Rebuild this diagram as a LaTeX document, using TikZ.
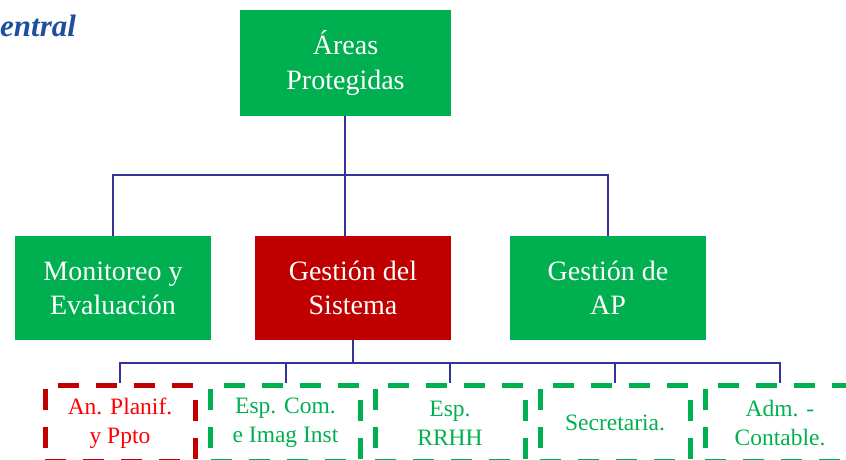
\documentclass[tikz,border=0pt]{standalone}
\usepackage{fontspec}
\setmainfont{Liberation Serif}
\usetikzlibrary{backgrounds}
\definecolor{boxgreen}{HTML}{00B050}
\definecolor{boxred}{HTML}{C00000}
\definecolor{textred}{HTML}{FF0000}
\definecolor{linkblue}{HTML}{333399}
\definecolor{titleblue}{HTML}{1F4E9F}
\tikzset{
  topbox/.style={fill=boxgreen, draw=none, text=white, align=center, minimum width=211pt, minimum height=106pt, inner sep=0pt, font=\fontsize{28}{35}\selectfont},
  midbox/.style={fill=#1, draw=none, text=white, align=center, minimum width=196pt, minimum height=104pt, inner sep=0pt, font=\fontsize{28}{34}\selectfont},
  lowbox/.style={draw=#1, line width=5pt, dash pattern=on 21pt off 17pt, fill=none, align=center, minimum width=150pt, minimum height=76pt, inner sep=0pt, font=\fontsize{23.5}{29}\selectfont},
  link/.style={draw=linkblue, line width=2pt},
  trunk/.style={draw=linkblue, line width=2.8pt}
}
\begin{document}
\begin{tikzpicture}[x=1pt, y=-1pt]
\useasboundingbox (0,0) rectangle (846,460);
\node[anchor=base west, inner sep=0pt, text=titleblue, font=\fontsize{31}{36}\selectfont\bfseries\itshape] (title) at (0,37) {entral};
\node[topbox] (top) at (345.5,63) {Áreas\\Protegidas};
\node[midbox=boxgreen] (m1) at (113,288) {Monitoreo y\\Evaluación};
\node[midbox=boxred] (m2) at (353,288) {Gestión del\\Sistema};
\node[midbox=boxgreen] (m3) at (608,288) {Gestión de\\AP};
\node[lowbox=boxred, text=textred] (b1) at (120,423) {An. Planif.\\y Ppto};
\node[lowbox=boxgreen, text=boxgreen] (b2) at (285.5,423) {Esp. Com.\\e Imag Inst};
\node[lowbox=boxgreen, text=boxgreen] (b3) at (450,423) {Esp.\\RRHH};
\node[lowbox=boxgreen, text=boxgreen] (b4) at (615,423) {Secretaria.};
\node[lowbox=boxgreen, text=boxgreen] (b5) at (780,423) {Adm. -\\Contable.};
\coordinate (busA) at (345,175);
\coordinate (busB) at (353,363);
\begin{pgfonlayer}{background}
\draw[trunk] (top.south -| busA) -- (busA |- m2.north);
\draw[link] (m1.north) |- (busA) -| (m3.north);
\draw[link] (m2.south) -- (busB);
\draw[link] (b1.north) |- (busB) -| (b5.north);
\draw[link] (b2.north) -- (b2.north |- busB);
\draw[link] (b3.north) -- (b3.north |- busB);
\draw[link] (b4.north) -- (b4.north |- busB);
\end{pgfonlayer}
\end{tikzpicture}
\end{document}
